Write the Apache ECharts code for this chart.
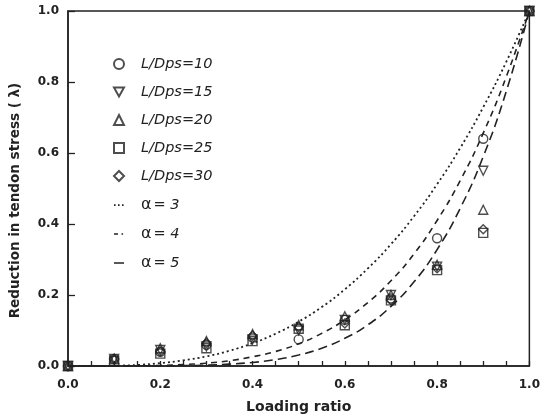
<!DOCTYPE html>
<html><head><meta charset="utf-8">
<script src="https://cdn.jsdelivr.net/npm/echarts@6/dist/echarts.min.js"></script>
<style>html,body{margin:0;padding:0;background:#fff}#c{width:543px;height:419px}</style>
</head><body><div id="c"></div>
<script>
const xPts = [0.0, 0.1, 0.2, 0.3, 0.4, 0.5, 0.6, 0.7, 0.8, 0.9, 1.0];
const ld10 = [0, 0.02, 0.04, 0.06, 0.08, 0.075, 0.13, 0.19, 0.36, 0.64, 1.0];
const ld15 = [0, 0.02, 0.045, 0.055, 0.075, 0.10, 0.13, 0.20, 0.28, 0.55, 1.0];
const ld20 = [0, 0.02, 0.05, 0.07, 0.09, 0.115, 0.14, 0.20, 0.285, 0.44, 1.0];
const ld25 = [0, 0.015, 0.035, 0.05, 0.07, 0.105, 0.115, 0.185, 0.27, 0.375, 1.0];
const ld30 = [0, 0.02, 0.04, 0.065, 0.085, 0.11, 0.12, 0.185, 0.275, 0.385, 1.0];
const xCurve = [0, 0.05, 0.1, 0.15, 0.2, 0.25, 0.3, 0.35, 0.4, 0.45, 0.5, 0.55, 0.6, 0.65, 0.7, 0.75, 0.8, 0.85, 0.9, 0.95, 1.0];
const alpha3 = [0, 0.0001, 0.001, 0.003, 0.008, 0.016, 0.027, 0.043, 0.064, 0.091, 0.125, 0.166, 0.216, 0.275, 0.343, 0.422, 0.512, 0.614, 0.729, 0.857, 1.0];
const alpha4 = [0, 0, 0.0001, 0.0005, 0.0016, 0.004, 0.008, 0.015, 0.026, 0.041, 0.0625, 0.092, 0.13, 0.179, 0.24, 0.316, 0.41, 0.522, 0.656, 0.815, 1.0];
const alpha5 = [0, 0, 0, 0.0001, 0.0003, 0.001, 0.0024, 0.0053, 0.01, 0.018, 0.031, 0.05, 0.078, 0.116, 0.168, 0.237, 0.328, 0.444, 0.59, 0.774, 1.0];
const xTicks = ['0.0', '0.2', '0.4', '0.6', '0.8', '1.0'];
const yTicks = ['0.0', '0.2', '0.4', '0.6', '0.8', '1.0'];

const ink = '#222';
const font = '"DejaVu Sans", sans-serif';
function pairs(xs, ys) { return xs.map((x, i) => [x, ys[i]]); }
function scatter(name, ys, symbol) {
  return {
    name, type: 'scatter', data: pairs(xPts, ys), symbol, symbolSize: 9,
    itemStyle: { color: 'transparent', borderColor: ink, borderWidth: 1.4 }, z: 5
  };
}
function curve(name, ys, type, w) {
  return {
    name, type: 'line', data: pairs(xCurve, ys), symbol: 'none', smooth: true,
    lineStyle: { color: ink, width: w, type }, itemStyle: { color: ink }
  };
}
const triDown = 'path://M0,0L10,0L5,9Z';
const box = 'M0,0h0.01v0.01h-0.01zM10,10h0.01v0.01h-0.01z';
const iconA3 = 'path://' + box + 'M0,4.3h1.6v1.6h-1.6zM4,4.3h1.6v1.6h-1.6zM8,4.3h1.6v1.6h-1.6z';
const iconA4 = 'path://' + box + 'M0,4.3h4v1.5h-4zM7.5,4.3h1.6v1.5h-1.6z';
const iconA5 = 'path://' + box + 'M0,4.3h10v1.5h-10z';

const chart = echarts.init(document.getElementById('c'), null, { renderer: 'canvas' });
chart.setOption({
  backgroundColor: '#fff',
  animation: false,
  grid: { left: 67, right: 13, top: 11, bottom: 52, show: true, borderColor: ink, borderWidth: 1.5 },
  xAxis: {
    type: 'value', min: 0, max: 1, interval: 0.2,
    name: 'Loading ratio', nameLocation: 'middle', nameGap: 34,
    nameTextStyle: { fontFamily: font, fontWeight: 'bold', fontSize: 14, color: ink },
    axisLine: { lineStyle: { color: ink, width: 1.5 } },
    axisTick: { inside: true, length: 5, lineStyle: { color: ink, width: 1.3 } },
    minorTick: { show: true, splitNumber: 4, length: 5, lineStyle: { color: ink, width: 1.3 } },
    splitLine: { show: false },
    axisLabel: { margin: 13, fontFamily: font, fontWeight: 'bold', fontSize: 12, color: ink,
      formatter: (v) => xTicks[Math.round(v / 0.2)] }
  },
  yAxis: {
    type: 'value', min: 0, max: 1, interval: 0.2,
    name: 'Reduction in tendon stress ( λ)', nameLocation: 'middle', nameGap: 46,
    nameTextStyle: { fontFamily: font, fontWeight: 'bold', fontSize: 13.5, color: ink, padding: [0, 24, 0, 0] },
    axisLine: { lineStyle: { color: ink, width: 1.5 } },
    axisTick: { inside: true, length: 7, lineStyle: { color: ink, width: 1.3 } },
    splitLine: { show: false },
    axisLabel: { margin: 9, fontFamily: font, fontWeight: 'bold', fontSize: 12, color: ink,
      formatter: (v) => yTicks[Math.round(v / 0.2)] }
  },
  legend: {
    orient: 'vertical', left: 108, top: 52, itemWidth: 10, itemHeight: 10, itemGap: 13,
    data: [
      'L/Dps=10',
      { name: 'L/Dps=15', icon: triDown },
      'L/Dps=20', 'L/Dps=25', 'L/Dps=30',
      { name: 'α=3', icon: iconA3, itemStyle: { color: ink, borderWidth: 0 }, lineStyle: { width: 0 } },
      { name: 'α=4', icon: iconA4, itemStyle: { color: ink, borderWidth: 0 }, lineStyle: { width: 0 } },
      { name: 'α=5', icon: iconA5, itemStyle: { color: ink, borderWidth: 0 }, lineStyle: { width: 0 } }
    ],
    formatter: function (name) {
      if (name.startsWith('α')) return '{a|α}{i|= ' + name.slice(2) + '}';
      return '{i|' + name + '}';
    },
    textStyle: {
      padding: [0, 0, 0, 12],
      rich: {
        i: { fontFamily: font, fontStyle: 'italic', fontSize: 14.5, color: ink, lineHeight: 16, verticalAlign: 'bottom' },
        a: { fontFamily: font, fontSize: 16, color: ink, lineHeight: 16, padding: [0, 2, 0, 0], verticalAlign: 'top' }
      }
    }
  },
  series: [
    scatter('L/Dps=10', ld10, 'circle'),
    Object.assign(scatter('L/Dps=15', ld15, 'triangle'), { symbolRotate: 180 }),
    scatter('L/Dps=20', ld20, 'triangle'),
    scatter('L/Dps=25', ld25, 'rect'),
    scatter('L/Dps=30', ld30, 'diamond'),
    curve('α=3', alpha3, [2, 3], 1.8),
    curve('α=4', alpha4, [6, 5], 1.6),
    curve('α=5', alpha5, [9, 5], 1.6)
  ]
});
</script></body></html>
